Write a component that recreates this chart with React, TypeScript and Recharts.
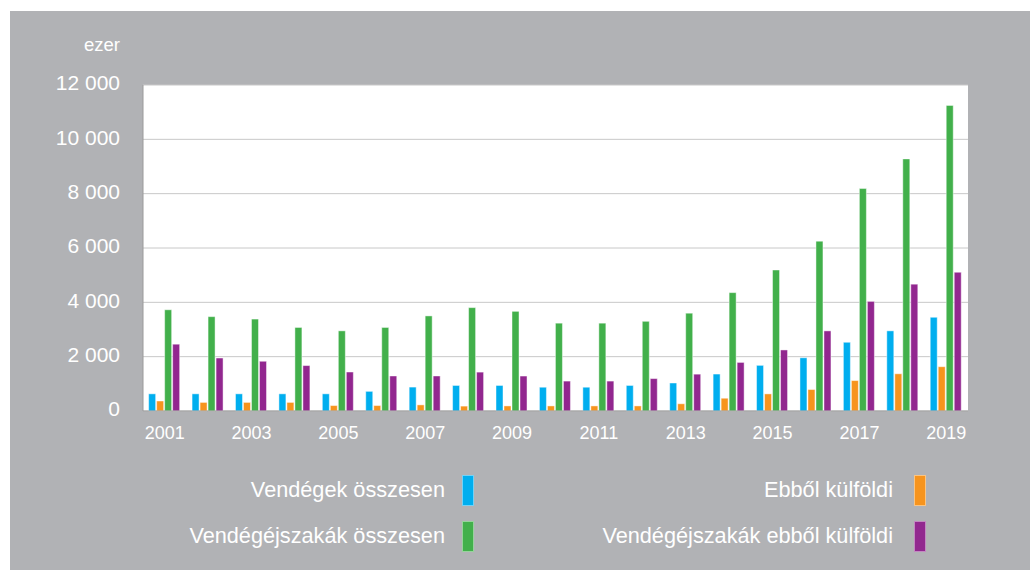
import React from "react";
import { BarChart, Bar, XAxis, YAxis, CartesianGrid, Legend } from "recharts";

const years = [
  "2001", "2002", "2003", "2004", "2005", "2006", "2007", "2008", "2009", "2010",
  "2011", "2012", "2013", "2014", "2015", "2016", "2017", "2018", "2019",
];
// ezer fő / ezer éjszaka
const vendegek = [632, 632, 632, 632, 632, 723, 880, 940, 940, 875, 875, 940, 1030, 1360, 1680, 1960, 2530, 2950, 3450];
const vendegekKulfoldi = [368, 316, 316, 316, 200, 200, 225, 180, 187, 187, 187, 187, 266, 470, 630, 790, 1120, 1370, 1630];
const ejszakak = [3726, 3473, 3384, 3075, 2950, 3075, 3500, 3805, 3668, 3233, 3233, 3301, 3600, 4357, 5190, 6252, 8188, 9280, 11250];
const ejszakakKulfoldi = [2459, 1950, 1830, 1672, 1435, 1289, 1289, 1431, 1284, 1101, 1101, 1193, 1356, 1788, 2247, 2949, 4035, 4668, 5107];
const yTicks = [0, 2000, 4000, 6000, 8000, 10000, 12000];

const series = [
  { key: "vendegek", name: "Vendégek összesen", color: "#00aeef" },
  { key: "vendegekKulfoldi", name: "Ebből külföldi", color: "#f7941d" },
  { key: "ejszakak", name: "Vendégéjszakák összesen", color: "#42b04b" },
  { key: "ejszakakKulfoldi", name: "Vendégéjszakák ebből külföldi", color: "#92278f" },
];

const data = years.map((year, i) => ({
  year,
  vendegek: vendegek[i],
  vendegekKulfoldi: vendegekKulfoldi[i],
  ejszakak: ejszakak[i],
  ejszakakKulfoldi: ejszakakKulfoldi[i],
}));

const FONT = '"Liberation Sans", Arial, Helvetica, sans-serif';
const fmt = (v: number) => String(v).replace(/\B(?=(\d{3})+(?!\d))/g, " ");

// legend: 2 columns, text right-aligned before the swatch
const legendPos = [
  { textRight: 435, swatchLeft: 452, top: 14 },
  { textRight: 883, swatchLeft: 904, top: 14 },
  { textRight: 435, swatchLeft: 452, top: 60 },
  { textRight: 883, swatchLeft: 904, top: 60 },
];

function renderLegend() {
  return (
    <div style={{ position: "relative", width: 1020, height: 100 }}>
      {series.map((s, i) => {
        const p = legendPos[i];
        return (
          <React.Fragment key={s.key}>
            <div
              style={{
                position: "absolute",
                right: 1020 - p.textRight,
                top: p.top,
                height: 30,
                lineHeight: "30px",
                fontSize: 21.7,
                color: "#ffffff",
                fontFamily: FONT,
                whiteSpace: "nowrap",
              }}
            >
              {s.name}
            </div>
            <div
              style={{
                position: "absolute",
                left: p.swatchLeft,
                top: p.top,
                width: 10,
                height: 29,
                background: s.color,
                border: "1px solid rgba(255,255,255,0.45)",
              }}
            />
          </React.Fragment>
        );
      })}
    </div>
  );
}

export default function App() {
  return (
    <div
      style={{
        position: "fixed",
        left: 10,
        top: 11,
        width: 1020,
        height: 559,
        background: "#b1b2b5",
        fontFamily: FONT,
      }}
    >
      <BarChart
        width={1020}
        height={559}
        data={data}
        margin={{ top: 74, right: 62, left: 0, bottom: 119 }}
        barCategoryGap="13%"
        barGap={1}
      >
        <CartesianGrid vertical={false} stroke="#c8c8c8" fill="#ffffff" />
        <XAxis
          dataKey="year"
          interval={1}
          height={40}
          tickSize={0}
          tickMargin={15}
          axisLine={{ stroke: "#9a9a9a" }}
          tick={{ fill: "#ffffff", fontSize: 18, fontFamily: FONT }}
        />
        <YAxis
          width={133}
          domain={[0, 12000]}
          ticks={yTicks}
          tickFormatter={fmt}
          tickSize={0}
          tickMargin={23}
          axisLine={{ stroke: "#9a9a9a" }}
          tick={{ fill: "#ffffff", fontSize: 21, fontFamily: FONT, dy: -2 }}
          label={{
            content: () => (
              <text x={110} y={40} textAnchor="end" fill="#ffffff" fontSize={18.5} fontFamily={FONT}>
                ezer
              </text>
            ),
          }}
        />
        <Legend
          layout="horizontal"
          verticalAlign="middle"
          align="center"
          content={renderLegend}
          wrapperStyle={{ top: 450, left: 0, width: 1020, height: 100 }}
        />
        {series.map((s) => (
          <Bar
            key={s.key}
            dataKey={s.key}
            name={s.name}
            fill={s.color}
            stroke="#ffffff"
            strokeOpacity={0.45}
            strokeWidth={1}
            isAnimationActive={false}
          />
        ))}
      </BarChart>
    </div>
  );
}
